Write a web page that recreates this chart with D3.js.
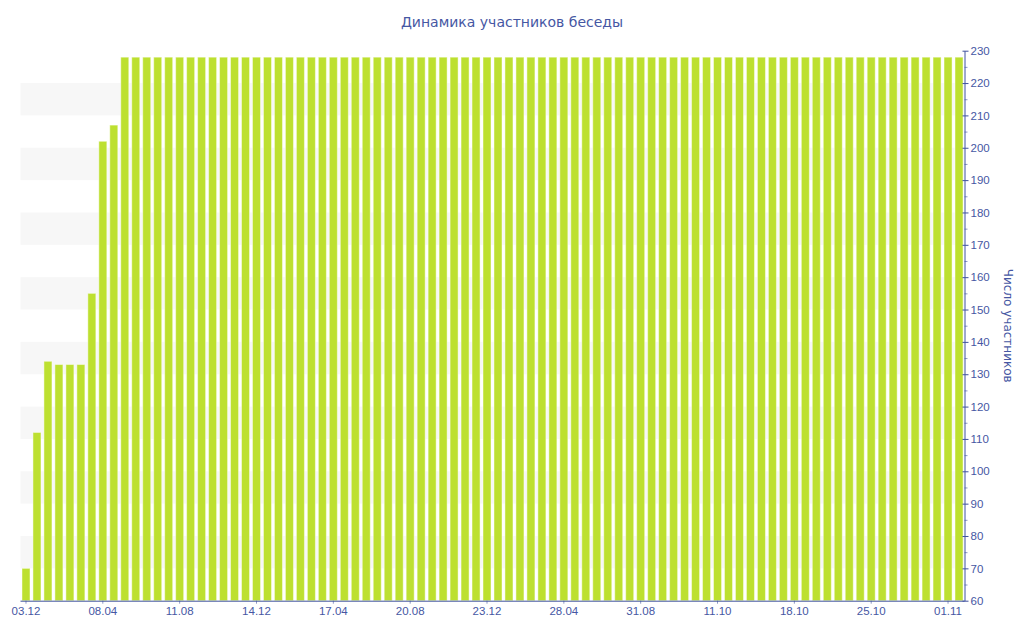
<!DOCTYPE html>
<html>
<head>
<meta charset="utf-8">
<script src="https://cdn.jsdelivr.net/npm/d3@7"></script>
<style>
    body { margin: 0; background: #fff; }
    svg { display: block; font-family: "DejaVu Sans", Verdana, sans-serif; }
</style>
</head>
<body>
<div id="content"></div>
<script>
// number of participants per period (86 bars)
const values = [
    70, 112, 134, 133, 133, 133, 155, 202, 207, 228,
    228, 228, 228, 228, 228, 228, 228, 228, 228, 228,
    228, 228, 228, 228, 228, 228, 228, 228, 228, 228,
    228, 228, 228, 228, 228, 228, 228, 228, 228, 228,
    228, 228, 228, 228, 228, 228, 228, 228, 228, 228,
    228, 228, 228, 228, 228, 228, 228, 228, 228, 228,
    228, 228, 228, 228, 228, 228, 228, 228, 228, 228,
    228, 228, 228, 228, 228, 228, 228, 228, 228, 228,
    228, 228, 228, 228, 228, 228
];
// labels shown on the x axis, one every 7 bars
const tickLabels = ["03.12", "08.04", "11.08", "14.12", "17.04", "20.08", "23.12",
    "28.04", "31.08", "11.10", "18.10", "25.10", "01.11"];
const tickEvery = 7;
const yDomain = [60, 230];

const title = "Динамика участников беседы";
const yTitle = "Число участников";

const width = 1024, height = 640;
const margin = { top: 50.7, right: 59.5, bottom: 39.3, left: 20.5 };
const innerW = width - margin.left - margin.right;
const innerH = height - margin.top - margin.bottom;

const axisColor = "#3f529f";
const textColor = "#4657a3";
const barColor = "#bde030";
const bandColor = "#f7f7f7";

const svg = d3.select("#content")
    .append("svg")
    .attr("width", width)
    .attr("height", height);

const g = svg.append("g")
    .attr("transform", `translate(${margin.left}, ${margin.top})`);

const idx = d3.range(values.length);
const x = d3.scaleBand()
    .domain(idx)
    .range([0, innerW])
    .paddingInner(0.27)
    .paddingOuter(0.135);

const y = d3.scaleLinear()
    .domain(yDomain)
    .range([innerH, 0]);

// alternating background bands
const bandStarts = d3.range(70, 230, 20);
g.append("g")
    .selectAll("rect")
    .data(bandStarts)
    .join("rect")
    .attr("x", 0)
    .attr("width", innerW)
    .attr("y", d => y(d + 10))
    .attr("height", d => y(d) - y(d + 10))
    .attr("fill", bandColor);

// bars
g.append("g")
    .selectAll("rect")
    .data(idx)
    .join("rect")
    .attr("x", i => x(i))
    .attr("width", x.bandwidth())
    .attr("y", i => y(values[i]))
    .attr("height", i => innerH - y(values[i]))
    .attr("fill", barColor)
    .attr("stroke", "#ffffff")
    .attr("stroke-opacity", 0.45)
    .attr("stroke-width", 1);

// x axis
const xTickIdx = tickLabels.map((_, k) => k * tickEvery);
const xAxis = g.append("g")
    .attr("transform", `translate(0, ${innerH})`)
    .call(d3.axisBottom(x)
        .tickValues(xTickIdx)
        .tickFormat(i => tickLabels[i / tickEvery])
        .tickSize(3)
        .tickSizeOuter(0)
        .tickPadding(3));
xAxis.select(".domain").attr("stroke", axisColor).attr("d", `M0,0.5H${innerW}`);
xAxis.selectAll(".tick line").attr("stroke", axisColor).attr("stroke-opacity", 0.6);
xAxis.selectAll("text").attr("fill", textColor).style("font-size", "11.5px");

// y axis on the right, minor ticks every 5
const yMinor = g.append("g")
    .attr("transform", `translate(${innerW}, 0)`)
    .call(d3.axisRight(y)
        .tickValues(d3.range(65, 230, 10))
        .tickSize(3)
        .tickFormat(""));
yMinor.select(".domain").remove();
yMinor.selectAll(".tick line").attr("stroke", axisColor).attr("stroke-opacity", 0.6);

const yAxis = g.append("g")
    .attr("transform", `translate(${innerW}, 0)`)
    .call(d3.axisRight(y)
        .tickValues(d3.range(60, 231, 10))
        .tickSize(4)
        .tickSizeOuter(0)
        .tickPadding(2));
yAxis.select(".domain").attr("stroke", axisColor);
yAxis.selectAll(".tick line").attr("stroke", axisColor).attr("x1", -2);
yAxis.selectAll("text").attr("fill", textColor).style("font-size", "11.5px");

// y title
svg.append("text")
    .text(yTitle)
    .attr("transform", `translate(1004, ${margin.top + innerH / 2}) rotate(90)`)
    .attr("text-anchor", "middle")
    .attr("fill", textColor)
    .style("font-size", "12px");

// title
svg.append("text")
    .text(title)
    .attr("x", 512)
    .attr("y", 27)
    .attr("text-anchor", "middle")
    .attr("fill", textColor)
    .style("font-size", "14px");
</script>
</body>
</html>
